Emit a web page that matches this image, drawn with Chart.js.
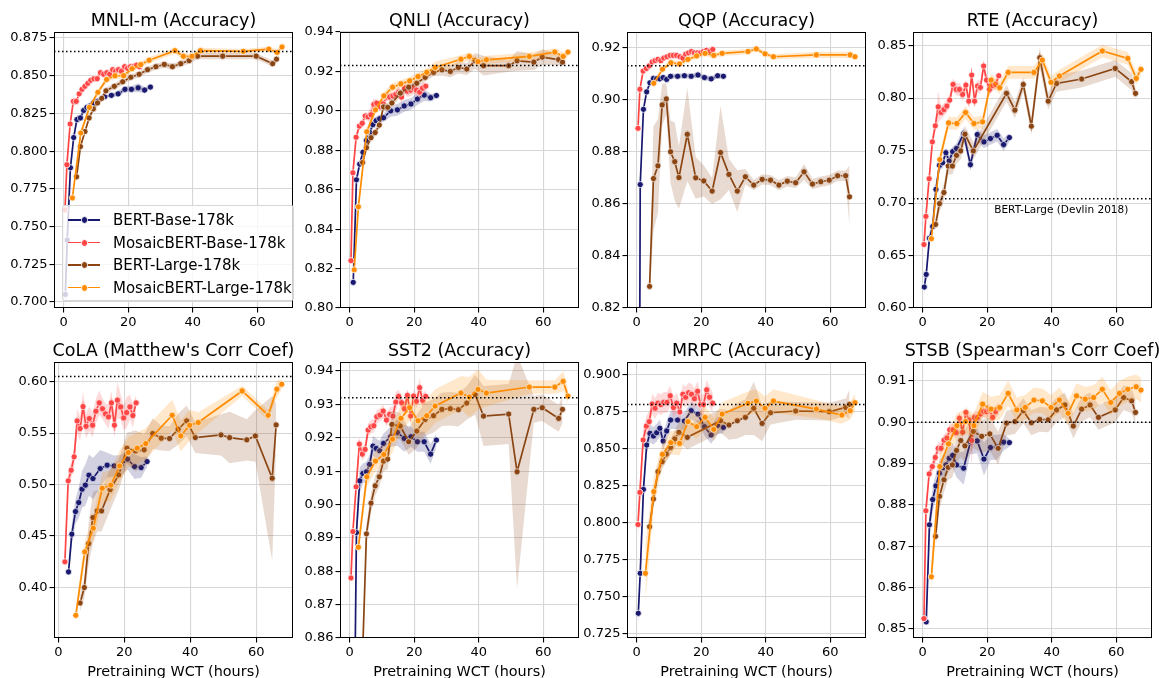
<!DOCTYPE html>
<html>
<head>
<meta charset="utf-8">
<script src="https://cdn.jsdelivr.net/npm/chart.js@4.4.1/dist/chart.umd.min.js"></script>
<style>
  html, body { margin: 0; padding: 0; background: #fff; }
  body { width: 1159px; height: 678px; position: relative; overflow: hidden; font-family: 'DejaVu Sans', sans-serif; }
  canvas { position: absolute; }
  #legend { position: absolute; left: 62px; top: 205px; width: 232px; height: 96px; box-sizing: border-box;
            border: 1px solid #d6d6d6; border-radius: 3px; background: rgba(255,255,255,0.8); z-index: 10; }
  .row { position: absolute; left: 0; height: 0; }
  .row .ln { position: absolute; left: 5px; width: 32px; top: -0.85px; height: 1.7px; }
  .row .mk { position: absolute; left: 17.9px; top: -3.6px; width: 5.6px; height: 5.6px; border-radius: 50%; border: 0.8px solid #fff; }
  .row .tx { position: absolute; left: 50px; top: -9px; font-size: 15px; line-height: 18px; white-space: nowrap; color: #000; }
</style>
</head>
<body>
<div id="legend"></div>
<script>
// pretraining wall-clock hours of each checkpoint, per model
const HOURS_BERT_BASE = [0.5, 1.1, 2.1, 3.1, 4.1, 5.2, 6.2, 7.2, 8.2, 9.3, 10.5, 12.7, 14.8, 16.9, 19.0, 21.0, 23.1, 25.1, 26.9];
const HOURS_MOSAIC_BASE = [0.4, 1.0, 2.0, 3.0, 3.9, 4.8, 5.7, 6.6, 7.5, 8.4, 9.4, 10.4, 11.4, 12.4, 13.4, 14.3, 15.2, 16.1, 17.0, 17.9, 18.9, 19.8, 20.7, 21.7, 22.6, 23.6];
const HOURS_BERT_LARGE = [4.0, 5.2, 6.6, 7.9, 9.2, 10.5, 11.8, 13.1, 15.7, 18.3, 20.8, 23.4, 26.0, 28.6, 31.2, 33.7, 36.3, 38.9, 41.5, 44.1, 46.7, 49.3, 51.9, 54.5, 57.1, 59.7, 62.3, 64.8, 66.0];
const HOURS_MOSAIC_LARGE = [1.4, 2.7, 5.3, 8.0, 10.6, 13.3, 15.9, 18.6, 21.2, 23.9, 26.5, 29.2, 31.8, 34.5, 37.1, 39.8, 42.4, 45.1, 47.7, 50.4, 53.0, 55.7, 58.3, 61.0, 63.6, 66.2, 67.7];

const SERIES_NAMES = ['BERT-Base-178k', 'MosaicBERT-Base-178k', 'BERT-Large-178k', 'MosaicBERT-Large-178k'];
const X_TICKS = [0, 20, 40, 60];

// MNLI-m
const MNLI_BB = [0.705, 0.741, 0.789, 0.809, 0.821, 0.822, 0.827, 0.829, 0.830, 0.832, 0.833, 0.836, 0.837, 0.838, 0.841, 0.841, 0.842, 0.8405, 0.8425];
const MNLI_BB_E = [0.010, 0.020, 0.004, 0.003, 0.003, 0.002, 0.002, 0.002, 0.002, 0.002, 0.002, 0.001, 0.001, 0.002, 0.002, 0.002, 0.003, 0.002, 0.001];
const MNLI_MB = [0.761, 0.791, 0.818, 0.833, 0.833, 0.838, 0.841, 0.843, 0.845, 0.847, 0.848, 0.848, 0.852, 0.851, 0.852, 0.851, 0.854, 0.853, 0.854, 0.853, 0.856, 0.855, 0.856, 0.856, 0.857, 0.856];
const MNLI_MB_E = [0.006, 0.003, 0.002, 0.002, 0.002, 0.002, 0.002, 0.002, 0.002, 0.002, 0.002, 0.002, 0.002, 0.002, 0.002, 0.002, 0.002, 0.002, 0.002, 0.002, 0.002, 0.002, 0.002, 0.002, 0.002, 0.002];
const MNLI_BL = [0.783, 0.803, 0.813, 0.822, 0.828, 0.832, 0.835, 0.840, 0.843, 0.846, 0.849, 0.851, 0.854, 0.856, 0.8575, 0.856, 0.858, 0.860, 0.863, null, null, 0.863, null, null, null, 0.863, null, 0.858, 0.861];
const MNLI_BL_E = [0.002, 0.002, 0.002, 0.002, 0.002, 0.002, 0.002, 0.002, 0.002, 0.002, 0.002, 0.002, 0.002, 0.002, 0.002, 0.002, 0.002, 0.002, 0.002, 0, 0, 0.002, 0, 0, 0, 0.002, 0, 0.002, 0.002];
const MNLI_ML = [null, 0.769, 0.812, 0.829, 0.839, 0.8475, 0.850, 0.850, 0.8547, 0.8574, 0.8603, null, null, 0.8666, 0.8629, 0.8629, 0.8666, null, null, null, null, 0.8662, null, null, 0.8677, 0.8655, 0.8691];
const MNLI_ML_E = [0, 0.002, 0.002, 0.002, 0.002, 0.002, 0.002, 0.002, 0.002, 0.002, 0.002, 0, 0, 0.002, 0.002, 0.002, 0.002, 0, 0, 0, 0, 0.0015, 0, 0, 0.0015, 0.002, 0.0015];
const MNLI_TICKS = [0.700, 0.725, 0.750, 0.775, 0.800, 0.825, 0.850, 0.875];

// QNLI
const QNLI_BB = [null, 0.813, 0.865, 0.873, 0.879, 0.885, 0.889, 0.893, 0.895, 0.896, 0.8965, 0.900, 0.9005, 0.9025, 0.9035, 0.906, 0.908, 0.9067, 0.9078];
const QNLI_BB_E = [0, 0.005, 0.003, 0.002, 0.002, 0.002, 0.002, 0.002, 0.002, 0.002, 0.002, 0.003, 0.003, 0.003, 0.003, 0.003, 0.003, 0.002, 0.001];
const QNLI_MB = [0.824, 0.8686, 0.8866, 0.8923, 0.8937, 0.8974, 0.897, 0.898, 0.9033, 0.9039, 0.902, 0.9035, 0.907, 0.907, 0.9076, 0.9084, 0.9095, 0.907, 0.9115, 0.910, 0.9105, 0.9115, 0.9105, 0.9095, 0.9115, 0.9125];
const QNLI_MB_E = [0.004, 0.003, 0.002, 0.002, 0.002, 0.002, 0.002, 0.005, 0.003, 0.002, 0.002, 0.002, 0.002, 0.002, 0.002, 0.002, 0.003, 0.003, 0.003, 0.003, 0.003, 0.003, 0.003, 0.003, 0.003, 0.002];
const QNLI_BL = [0.8738, 0.8813, 0.8864, 0.889, 0.8928, 0.902, 0.9018, 0.904, 0.909, 0.912, 0.914, 0.917, 0.9195, 0.9208, 0.920, 0.922, 0.9212, 0.9254, 0.9229, null, null, 0.9229, 0.9254, null, 0.9247, 0.9273, null, 0.926, 0.9247];
const QNLI_BL_E = [0.002, 0.002, 0.002, 0.002, 0.002, 0.002, 0.002, 0.002, 0.002, 0.002, 0.002, 0.002, 0.002, 0.003, 0.003, 0.003, 0.003, 0.004, 0.005, 0, 0, 0.003, 0.005, 0, 0.004, 0.004, 0, 0.003, 0.002];
const QNLI_ML = [0.8194, 0.8513, 0.8894, 0.9005, 0.9076, 0.912, 0.9137, 0.9152, 0.9174, 0.9195, 0.922, null, null, 0.9262, 0.9276, 0.925, 0.9259, null, null, null, null, 0.9276, null, null, 0.9298, 0.9276, 0.9298];
const QNLI_ML_E = [0.002, 0.002, 0.002, 0.002, 0.002, 0.002, 0.002, 0.002, 0.002, 0.002, 0.003, 0, 0, 0.002, 0.002, 0.002, 0.002, 0, 0, 0, 0, 0.002, 0, 0, 0.002, 0.002, 0.002];
const QNLI_TICKS = [0.80, 0.82, 0.84, 0.86, 0.88, 0.90, 0.92, 0.94];

// QQP
const QQP_BB = [0.63, 0.8674, 0.8963, 0.903, 0.9065, 0.9082, 0.908, 0.908, 0.9085, 0.9078, 0.909, 0.909, 0.9092, 0.909, 0.9095, 0.9085, 0.908, 0.9092, 0.909];
const QQP_BB_E = [0.002, 0.002, 0.001, 0.001, 0.001, 0.001, 0.001, 0.001, 0.001, 0.001, 0.001, 0.001, 0.001, 0.001, 0.001, 0.001, 0.001, 0.001, 0.001];
const QQP_MB = [0.889, 0.904, 0.911, 0.912, 0.913, 0.9145, 0.915, 0.9155, 0.915, 0.916, 0.9165, 0.917, 0.917, 0.917, 0.9165, 0.916, 0.9175, 0.918, 0.9185, 0.918, 0.918, 0.918, 0.9185, 0.919, 0.9185, 0.9193];
const QQP_MB_E = [0.001, 0.001, 0.001, 0.001, 0.001, 0.001, 0.001, 0.001, 0.001, 0.001, 0.001, 0.001, 0.001, 0.001, 0.001, 0.001, 0.001, 0.001, 0.001, 0.001, 0.001, 0.001, 0.001, 0.001, 0.001, 0.001];
const QQP_BL = [0.8283, 0.8697, 0.8746, 0.898, 0.9003, 0.880, 0.8762, 0.8701, 0.8867, 0.870, 0.8688, 0.8649, 0.8797, 0.8713, 0.8649, 0.8704, 0.8672, 0.8694, 0.8691, 0.8672, 0.8687, 0.8681, 0.8723, 0.8676, 0.8685, 0.8691, 0.8708, 0.8708, 0.8627];
const QQP_BL_E = [0.004, 0.020, 0.018, 0.008, 0.006, 0.012, 0.015, 0.012, 0.018, 0.008, 0.006, 0.005, 0.018, 0.006, 0.008, 0.003, 0.002, 0.002, 0.002, 0.002, 0.002, 0.002, 0.003, 0.002, 0.002, 0.002, 0.002, 0.002, 0.012];
const QQP_ML = [null, null, 0.9063, 0.9117, 0.9142, 0.9137, 0.9155, 0.9168, 0.9178, 0.917, 0.9178, null, null, 0.9185, 0.9195, 0.9176, 0.9165, null, null, null, null, 0.9172, null, null, null, 0.9172, 0.9165];
const QQP_ML_E = [0, 0, 0.001, 0.001, 0.001, 0.001, 0.001, 0.001, 0.001, 0.001, 0.001, 0, 0, 0.001, 0.001, 0.001, 0.001, 0, 0, 0, 0, 0.0012, 0, 0, 0, 0.0012, 0.001];
const QQP_TICKS = [0.82, 0.84, 0.86, 0.88, 0.90, 0.92];

// RTE
const RTE_BB = [0.620, 0.632, 0.6665, 0.6777, 0.713, 0.736, 0.7385, 0.748, 0.740, 0.749, 0.752, 0.7662, 0.7366, 0.7653, 0.7583, 0.7615, 0.7646, 0.7557, 0.7624];
const RTE_BB_E = [0.008, 0.006, 0.006, 0.006, 0.006, 0.005, 0.005, 0.005, 0.005, 0.005, 0.005, 0.006, 0.006, 0.006, 0.006, 0.006, 0.006, 0.006, 0.004];
const RTE_MB = [0.6605, 0.6873, 0.7232, 0.7583, 0.7736, 0.7917, 0.7863, 0.789, 0.7924, 0.7981, 0.813, 0.8083, 0.8083, 0.8035, 0.8124, 0.7971, 0.822, 0.7971, 0.8115, 0.8102, 0.8306, 0.8172, 0.8083, 0.812, 0.813, 0.8213];
const RTE_MB_E = [0.010, 0.006, 0.006, 0.006, 0.006, 0.015, 0.006, 0.006, 0.006, 0.006, 0.006, 0.006, 0.006, 0.006, 0.006, 0.006, 0.006, 0.006, 0.006, 0.006, 0.006, 0.006, 0.006, 0.005, 0.005, 0.005];
const RTE_BL = [0.6796, 0.6994, 0.710, 0.7353, 0.7353, 0.7455, 0.7497, 0.7656, 0.7497, null, null, null, 0.8045, 0.7885, 0.813, 0.7732, 0.8385, 0.7971, 0.814, null, null, 0.8182, null, null, null, 0.8283, null, 0.8156, 0.8045];
const RTE_BL_E = [0.006, 0.008, 0.008, 0.008, 0.008, 0.008, 0.008, 0.008, 0.008, 0, 0, 0, 0.008, 0.008, 0.007, 0.008, 0.010, 0.008, 0.008, 0, 0, 0.008, 0, 0, 0, 0.008, 0, 0.008, 0.006];
const RTE_ML = [null, 0.666, 0.7414, 0.7764, 0.7758, 0.7863, 0.7758, 0.7774, 0.8172, 0.8099, 0.8245, null, null, 0.8245, 0.8363, 0.815, 0.821, null, null, null, null, 0.8449, null, null, 0.8379, 0.8188, 0.8274];
const RTE_ML_E = [0, 0.006, 0.006, 0.006, 0.006, 0.006, 0.006, 0.006, 0.006, 0.006, 0.006, 0, 0, 0.006, 0.006, 0.006, 0.006, 0, 0, 0, 0, 0.006, 0, 0, 0.006, 0.006, 0.006];
const RTE_TICKS = [0.60, 0.65, 0.70, 0.75, 0.80, 0.85];

// CoLA
const COLA_BB = [null, null, null, 0.4152, 0.4518, 0.4738, 0.4825, 0.4955, 0.4994, 0.5091, 0.5058, 0.5155, 0.5188, 0.5181, 0.5188, 0.5246, 0.5175, 0.5165, 0.5223];
const COLA_BB_E = [0, 0, 0, 0.010, 0.010, 0.012, 0.015, 0.018, 0.020, 0.020, 0.020, 0.018, 0.012, 0.010, 0.010, 0.010, 0.012, 0.010, 0.005];
const COLA_MB = [null, null, 0.425, 0.5036, 0.5139, 0.5269, 0.5618, 0.5544, 0.5757, 0.5566, 0.5641, 0.5576, 0.5712, 0.5793, 0.5735, 0.5686, 0.5657, 0.5793, 0.5576, 0.5819, 0.5754, 0.5647, 0.5699, 0.5754, 0.567, 0.5793];
const COLA_MB_E = [0, 0, 0.015, 0.008, 0.008, 0.010, 0.012, 0.012, 0.015, 0.012, 0.012, 0.012, 0.012, 0.012, 0.010, 0.010, 0.012, 0.012, 0.012, 0.018, 0.012, 0.012, 0.015, 0.012, 0.012, 0.008];
const COLA_BL = [null, null, 0.385, 0.40, 0.4427, 0.468, 0.4744, 0.4744, 0.495, 0.5094, 0.5353, 0.5327, 0.5337, 0.5495, 0.545, 0.5447, 0.5537, 0.5618, 0.5456, null, null, 0.5482, 0.5456, null, 0.5434, 0.5472, null, 0.5061, 0.5579];
const COLA_BL_E = [0, 0, 0.008, 0.010, 0.020, 0.025, 0.020, 0.020, 0.020, 0.015, 0.015, 0.020, 0.015, 0.015, 0.012, 0.012, 0.015, 0.015, 0.015, 0, 0, 0.020, 0.025, 0, 0.020, 0.025, 0, 0.080, 0.020];
const COLA_ML = [null, null, 0.373, 0.4346, 0.4576, 0.4964, 0.4994, 0.5181, 0.5311, 0.5353, 0.5398, null, null, 0.5673, 0.5472, 0.5576, 0.5602, null, null, null, null, 0.5909, null, null, 0.5673, 0.5926, 0.5974];
const COLA_ML_E = [0, 0, 0.008, 0.010, 0.012, 0.015, 0.015, 0.015, 0.015, 0.015, 0.015, 0, 0, 0.015, 0.015, 0.015, 0.010, 0, 0, 0, 0, 0.005, 0, 0, 0.005, 0.008, 0.005];
const COLA_TICKS = [0.40, 0.45, 0.50, 0.55, 0.60];

// SST2
const SST2_BB = [null, 0.80, 0.8916, 0.9071, 0.9093, 0.9098, 0.912, 0.9175, 0.9168, 0.9161, 0.9183, 0.9203, 0.9216, 0.9198, 0.9203, 0.9188, 0.9188, 0.9151, 0.9193];
const SST2_BB_E = [0, 0.005, 0.005, 0.004, 0.003, 0.003, 0.003, 0.003, 0.003, 0.003, 0.003, 0.003, 0.004, 0.004, 0.003, 0.003, 0.003, 0.003, 0.002];
const SST2_MB = [0.878, 0.8919, 0.9053, 0.9181, 0.9151, 0.9165, 0.9223, 0.9233, 0.9236, 0.9263, 0.9268, 0.928, 0.9253, 0.927, 0.9265, 0.9307, 0.9324, 0.9305, 0.9287, 0.9327, 0.9265, 0.9325, 0.9309, 0.935, 0.9312, 0.9324];
const SST2_MB_E = [0.003, 0.002, 0.002, 0.002, 0.002, 0.002, 0.002, 0.002, 0.002, 0.002, 0.002, 0.002, 0.002, 0.002, 0.003, 0.003, 0.002, 0.002, 0.002, 0.002, 0.002, 0.002, 0.002, 0.003, 0.002, 0.002];
const SST2_BL = [0.855, 0.8912, 0.9004, 0.9056, 0.9083, 0.913, 0.9136, 0.924, 0.9235, 0.9188, 0.922, 0.9255, 0.9266, 0.9285, 0.9287, 0.9284, 0.9304, 0.9329, 0.9265, null, null, 0.9271, 0.9098, null, 0.9285, 0.929, null, 0.9258, 0.9285];
const SST2_BL_E = [0.003, 0.003, 0.003, 0.003, 0.003, 0.003, 0.003, 0.004, 0.004, 0.004, 0.005, 0.005, 0.005, 0.005, 0.005, 0.005, 0.005, 0.006, 0.009, 0, 0, 0.009, 0.035, 0, 0.004, 0.004, 0, 0.004, 0.004];
const SST2_ML = [null, 0.8872, 0.9083, 0.913, 0.915, 0.9196, 0.9258, 0.929, 0.9251, 0.9266, 0.9295, null, null, 0.9334, 0.9322, 0.9345, 0.9334, null, null, null, null, 0.9352, null, null, 0.9352, 0.9369, 0.9325];
const SST2_ML_E = [0, 0.003, 0.003, 0.003, 0.003, 0.004, 0.004, 0.004, 0.005, 0.005, 0.005, 0, 0, 0.005, 0.006, 0.006, 0.004, 0, 0, 0, 0, 0.002, 0, 0, 0.002, 0.003, 0.002];
const SST2_TICKS = [0.86, 0.87, 0.88, 0.89, 0.90, 0.91, 0.92, 0.93, 0.94];

// MRPC
const MRPC_BB = [0.739, 0.766, 0.8227, 0.8527, 0.8606, 0.8588, 0.861, 0.864, 0.8554, 0.8622, 0.8696, 0.8696, 0.8689, 0.8759, 0.8736, 0.8651, 0.8595, 0.866, 0.8646];
const MRPC_BB_E = [0.008, 0.006, 0.006, 0.006, 0.006, 0.006, 0.006, 0.006, 0.006, 0.006, 0.006, 0.006, 0.006, 0.006, 0.006, 0.006, 0.006, 0.006, 0.004];
const MRPC_MB = [0.799, 0.8207, 0.8561, 0.8655, 0.8685, 0.8804, 0.8775, 0.881, 0.880, 0.8815, 0.8815, 0.886, 0.878, 0.881, 0.875, 0.887, 0.885, 0.888, 0.887, 0.884, 0.889, 0.880, 0.880, 0.890, 0.885, 0.881];
const MRPC_MB_E = [0.008, 0.007, 0.007, 0.007, 0.007, 0.007, 0.007, 0.007, 0.007, 0.007, 0.007, 0.007, 0.007, 0.007, 0.007, 0.007, 0.007, 0.007, 0.007, 0.007, 0.007, 0.007, 0.007, 0.007, 0.007, 0.007];
const MRPC_BL = [0.7975, 0.8162, 0.8347, 0.8414, 0.8466, 0.8511, 0.8568, 0.8613, 0.8579, null, null, null, 0.8691, 0.8662, 0.8691, 0.8714, 0.8775, 0.8673, 0.8745, null, null, 0.8757, null, null, null, 0.8752, null, 0.8781, 0.8802];
const MRPC_BL_E = [0.005, 0.005, 0.005, 0.005, 0.005, 0.005, 0.006, 0.007, 0.008, 0, 0, 0, 0.008, 0.010, 0.012, 0.012, 0.018, 0.012, 0.008, 0, 0, 0.006, 0, 0, 0, 0.006, 0, 0.006, 0.010];
const MRPC_ML = [null, 0.766, 0.8212, 0.8464, 0.8543, 0.8538, 0.8685, 0.8651, 0.8714, 0.8633, 0.8736, null, null, 0.8809, 0.8824, 0.8775, 0.8824, null, null, null, null, 0.877, null, null, 0.873, 0.8759, 0.8813];
const MRPC_ML_E = [0, 0.020, 0.010, 0.008, 0.008, 0.008, 0.008, 0.008, 0.008, 0.008, 0.008, 0, 0, 0.008, 0.008, 0.008, 0.008, 0, 0, 0, 0, 0.006, 0, 0, 0.006, 0.006, 0.006];
const MRPC_TICKS = [0.725, 0.750, 0.775, 0.800, 0.825, 0.850, 0.875, 0.900];

// STSB
const STSB_BB = [null, 0.8517, 0.8752, 0.8813, 0.8846, 0.8877, 0.889, 0.8897, 0.8913, 0.892, 0.8897, 0.8889, 0.8953, 0.8955, 0.8911, 0.8939, 0.894, 0.8952, 0.8951];
const STSB_BB_E = [0, 0.002, 0.003, 0.003, 0.003, 0.003, 0.003, 0.003, 0.003, 0.003, 0.003, 0.004, 0.003, 0.003, 0.004, 0.003, 0.003, 0.002, 0.001];
const STSB_MB = [0.8525, 0.8786, 0.8875, 0.8893, 0.8915, 0.8937, 0.8937, 0.8957, 0.8962, 0.8982, 0.8982, 0.8975, 0.901, 0.8976, 0.9024, 0.9006, 0.8956, 0.9012, 0.9012, 0.902, 0.9026, 0.9026, 0.903, 0.9012, 0.9026, 0.9034];
const STSB_MB_E = [0.002, 0.002, 0.0015, 0.0015, 0.0015, 0.0015, 0.0015, 0.0015, 0.0015, 0.0015, 0.0015, 0.0015, 0.0015, 0.0015, 0.0015, 0.0015, 0.006, 0.0015, 0.0015, 0.0015, 0.0015, 0.0015, 0.0015, 0.0015, 0.0015, 0.0015];
const STSB_BL = [0.8724, 0.8821, 0.8861, 0.8891, 0.8897, 0.8932, 0.8956, 0.8943, 0.8978, 0.8966, 0.8972, 0.8937, 0.8998, 0.9002, 0.9028, 0.8999, 0.9007, 0.9006, 0.903, 0.9042, 0.8991, 0.9032, 0.9042, 0.9012, null, 0.903, 0.906, 0.9052, 0.9024];
const STSB_BL_E = [0.003, 0.003, 0.003, 0.003, 0.003, 0.003, 0.004, 0.004, 0.004, 0.004, 0.004, 0.004, 0.003, 0.003, 0.003, 0.003, 0.003, 0.003, 0.003, 0.003, 0.003, 0.003, 0.003, 0.003, 0, 0.003, 0.003, 0.003, 0.003];
const STSB_ML = [null, 0.8626, 0.8893, 0.8948, 0.8992, 0.9002, 0.8992, 0.9044, 0.9032, 0.9036, 0.907, 0.903, 0.9036, 0.9054, 0.9052, 0.9036, 0.9054, 0.9022, 0.9064, 0.9056, 0.906, 0.908, 0.9048, 0.907, 0.908, 0.9086, 0.9078];
const STSB_ML_E = [0, 0.004, 0.003, 0.003, 0.003, 0.003, 0.003, 0.003, 0.003, 0.003, 0.003, 0.003, 0.003, 0.003, 0.003, 0.003, 0.003, 0.003, 0.003, 0.003, 0.003, 0.003, 0.003, 0.003, 0.003, 0.003, 0.003];
const STSB_TICKS = [0.85, 0.86, 0.87, 0.88, 0.89, 0.90, 0.91];

// ---- drawing ----
const FONT = "'DejaVu Sans', sans-serif";
const COLORS = ['#191970', '#ff4545', '#8b4513', '#ff8c00'];
const HOURS = [HOURS_BERT_BASE, HOURS_MOSAIC_BASE, HOURS_BERT_LARGE, HOURS_MOSAIC_LARGE];
const LEFTS = [54, 340, 627, 913], TOPS = [32, 362];
const PLOT_W = 239, PLOT_H = 276, Y_AXIS_W = 52, TITLE_H = 32;
const X_MAX = 71.1;
const GRID = '#d6d6d6';

const PANELS = [
  { title: 'MNLI-m (Accuracy)', col: 0, row: 0, xMin: -3, yMin: 0.696, yMax: 0.879, ticks: MNLI_TICKS, dec: 3, ref: 0.866,
    vals: [MNLI_BB, MNLI_MB, MNLI_BL, MNLI_ML], errs: [MNLI_BB_E, MNLI_MB_E, MNLI_BL_E, MNLI_ML_E] },
  { title: 'QNLI (Accuracy)', col: 1, row: 0, xMin: -3, yMin: 0.80, yMax: 0.94, ticks: QNLI_TICKS, dec: 2, ref: 0.923,
    vals: [QNLI_BB, QNLI_MB, QNLI_BL, QNLI_ML], errs: [QNLI_BB_E, QNLI_MB_E, QNLI_BL_E, QNLI_ML_E] },
  { title: 'QQP (Accuracy)', col: 2, row: 0, xMin: -3, yMin: 0.82, yMax: 0.926, ticks: QQP_TICKS, dec: 2, ref: 0.913,
    vals: [QQP_BB, QQP_MB, QQP_BL, QQP_ML], errs: [QQP_BB_E, QQP_MB_E, QQP_BL_E, QQP_ML_E] },
  { title: 'RTE (Accuracy)', col: 3, row: 0, xMin: -3, yMin: 0.60, yMax: 0.863, ticks: RTE_TICKS, dec: 2, ref: 0.704,
    note: { text: 'BERT-Large (Devlin 2018)', x: 22.2, y: 0.704 },
    vals: [RTE_BB, RTE_MB, RTE_BL, RTE_ML], errs: [RTE_BB_E, RTE_MB_E, RTE_BL_E, RTE_ML_E] },
  { title: "CoLA (Matthew's Corr Coef)", col: 0, row: 1, xMin: -1.3, yMin: 0.351, yMax: 0.619, ticks: COLA_TICKS, dec: 2, ref: 0.605,
    vals: [COLA_BB, COLA_MB, COLA_BL, COLA_ML], errs: [COLA_BB_E, COLA_MB_E, COLA_BL_E, COLA_ML_E] },
  { title: 'SST2 (Accuracy)', col: 1, row: 1, xMin: -3, yMin: 0.86, yMax: 0.9427, ticks: SST2_TICKS, dec: 2, ref: 0.932,
    vals: [SST2_BB, SST2_MB, SST2_BL, SST2_ML], errs: [SST2_BB_E, SST2_MB_E, SST2_BL_E, SST2_ML_E] },
  { title: 'MRPC (Accuracy)', col: 2, row: 1, xMin: -3, yMin: 0.7223, yMax: 0.9088, ticks: MRPC_TICKS, dec: 3, ref: 0.880,
    vals: [MRPC_BB, MRPC_MB, MRPC_BL, MRPC_ML], errs: [MRPC_BB_E, MRPC_MB_E, MRPC_BL_E, MRPC_ML_E] },
  { title: "STSB (Spearman's Corr Coef)", col: 3, row: 1, xMin: -3, yMin: 0.8478, yMax: 0.9146, ticks: STSB_TICKS, dec: 2, ref: 0.900,
    vals: [STSB_BB, STSB_MB, STSB_BL, STSB_ML], errs: [STSB_BB_E, STSB_MB_E, STSB_BL_E, STSB_ML_E] },
];

function rgba(hex, a) {
  const n = parseInt(hex.slice(1), 16);
  return `rgba(${n >> 16},${(n >> 8) & 255},${n & 255},${a})`;
}

// black box around the axes, like matplotlib spines
const framePlugin = {
  id: 'frame',
  afterDatasetsDraw(chart) {
    const { ctx, chartArea: a } = chart;
    ctx.save();
    ctx.strokeStyle = '#000';
    ctx.lineWidth = 1;
    ctx.strokeRect(a.left + 0.5, a.top + 0.5, a.width - 1, a.height - 1);
    ctx.restore();
  }
};

// panel title centred over the axes box
const titlePlugin = {
  id: 'ptitle',
  afterDraw(chart, args, opts) {
    const { ctx, chartArea: a } = chart;
    ctx.save();
    ctx.fillStyle = '#000';
    ctx.font = '17.5px ' + FONT;
    ctx.textAlign = 'center';
    ctx.textBaseline = 'middle';
    ctx.fillText(opts.text, (a.left + a.right) / 2, a.top - 10.5);
    ctx.restore();
  }
};

const notePlugin = {
  id: 'note',
  afterDatasetsDraw(chart, args, opts) {
    if (!opts.text) return;
    const { ctx, scales } = chart;
    ctx.save();
    ctx.fillStyle = '#000';
    ctx.font = '10.5px ' + FONT;
    ctx.textBaseline = 'middle';
    ctx.textAlign = 'left';
    ctx.fillText(opts.text, scales.x.getPixelForValue(opts.x), scales.y.getPixelForValue(opts.y) + 11);
    ctx.restore();
  }
};

PANELS.forEach(p => {
  const bottomH = p.row === 0 ? 22 : 43;
  const cv = document.createElement('canvas');
  cv.width = Y_AXIS_W + PLOT_W + Y_AXIS_W;
  cv.height = TITLE_H + PLOT_H + bottomH;
  cv.style.left = (LEFTS[p.col] - Y_AXIS_W) + 'px';
  cv.style.top = (TOPS[p.row] - TITLE_H) + 'px';
  document.body.appendChild(cv);

  const datasets = [];
  p.vals.forEach((vals, s) => {
    const xs = HOURS[s], errs = p.errs[s];
    const pts = [], lo = [], hi = [];
    vals.forEach((v, j) => {
      if (v === null) return;
      pts.push({ x: xs[j], y: v });
      lo.push({ x: xs[j], y: v - errs[j] });
      hi.push({ x: xs[j], y: v + errs[j] });
    });
    const base = 80 - s * 10;
    datasets.push({ data: pts, borderColor: COLORS[s], backgroundColor: COLORS[s], borderWidth: 1.7,
      pointRadius: 3.1, pointBackgroundColor: COLORS[s], pointBorderColor: '#fff', pointBorderWidth: 0.8, order: base });
    datasets.push({ data: lo, borderColor: 'rgba(0,0,0,0)', borderWidth: 0, pointRadius: 0, fill: false, order: base - 1 });
    datasets.push({ data: hi, borderColor: 'rgba(0,0,0,0)', borderWidth: 0, pointRadius: 0, fill: '-1',
      backgroundColor: rgba(COLORS[s], 0.2), order: base - 1 });
  });
  datasets.push({ data: [{ x: p.xMin, y: p.ref }, { x: X_MAX, y: p.ref }], borderColor: '#000', borderWidth: 1.5,
    borderDash: [1.5, 2.5], pointRadius: 0, order: 0 });

  new Chart(cv, {
    type: 'line',
    data: { datasets },
    plugins: [framePlugin, titlePlugin, notePlugin],
    options: {
      responsive: false,
      animation: false,
      events: [],
      clip: 0,
      layout: { padding: { left: 0, right: Y_AXIS_W, top: TITLE_H, bottom: 0 } },
      plugins: {
        legend: { display: false },
        tooltip: { enabled: false },
        title: { display: false },
        ptitle: { text: p.title },
        note: p.note || {}
      },
      scales: {
        x: {
          type: 'linear', min: p.xMin, max: X_MAX,
          afterBuildTicks: sc => { sc.ticks = X_TICKS.map(v => ({ value: v })); },
          afterFit: sc => { sc.height = bottomH; },
          border: { display: false },
          grid: { color: GRID, lineWidth: 1.1, tickColor: '#000', tickLength: 4.5 },
          ticks: { color: '#000', font: { family: FONT, size: 13 }, padding: 2.5, maxRotation: 0, autoSkip: false,
                   callback: v => String(v) },
          title: { display: p.row === 1, text: 'Pretraining WCT (hours)', color: '#000',
                   font: { family: FONT, size: 14.4 }, padding: { top: 0, bottom: 0 } }
        },
        y: {
          type: 'linear', min: p.yMin, max: p.yMax,
          afterBuildTicks: sc => { sc.ticks = p.ticks.map(v => ({ value: v })); },
          afterFit: sc => { sc.width = Y_AXIS_W; },
          border: { display: false },
          grid: { color: GRID, lineWidth: 1.1, tickColor: '#000', tickLength: 4.5 },
          ticks: { color: '#000', font: { family: FONT, size: 13 }, padding: 2, autoSkip: false,
                   callback: v => v.toFixed(p.dec) }
        }
      }
    }
  });
});

// legend inside the first panel
const legend = document.getElementById('legend');
SERIES_NAMES.forEach((name, i) => {
  const row = document.createElement('div');
  row.className = 'row';
  row.style.top = (14 + i * 22.5) + 'px';
  row.innerHTML = `<div class="ln" style="background:${COLORS[i]}"></div><div class="mk" style="background:${COLORS[i]}"></div><div class="tx">${name}</div>`;
  legend.appendChild(row);
});
</script>
</body>
</html>
